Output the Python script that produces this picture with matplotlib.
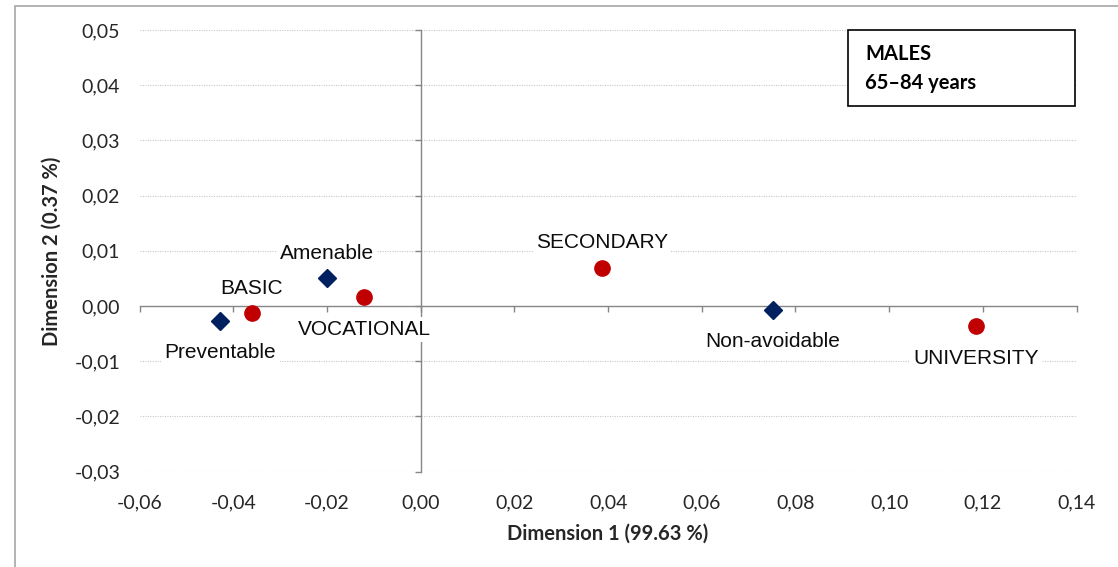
import matplotlib
matplotlib.use("Agg")
import matplotlib.pyplot as plt
from matplotlib.patches import Rectangle
from matplotlib.ticker import FixedLocator, FuncFormatter

# ---- data ----
cause_labels = ["Preventable", "Amenable", "Non-avoidable"]
cause_x = [-0.0428, -0.0200, 0.0752]
cause_y = [-0.0027, 0.0050, -0.0007]
cause_pos = ["below", "above", "below"]

edu_labels = ["BASIC", "VOCATIONAL", "SECONDARY", "UNIVERSITY"]
edu_x = [-0.0360, -0.0121, 0.0387, 0.1185]
edu_y = [-0.0013, 0.0016, 0.0069, -0.0037]
edu_pos = ["above", "below", "above", "below"]

x_ticks = [-0.06, -0.04, -0.02, 0.00, 0.02, 0.04, 0.06, 0.08, 0.10, 0.12, 0.14]
y_ticks = [-0.03, -0.02, -0.01, 0.00, 0.01, 0.02, 0.03, 0.04, 0.05]
x_title = "Dimension 1 (99.63 %)"
y_title = "Dimension 2 (0.37 %)"
box_lines = ["MALES", "65\u201384 years"]

# ---- figure ----
W, H = 1118, 567
fig = plt.figure(figsize=(W / 100, H / 100), dpi=100)
fig.patch.set_facecolor("white")

# outer frame
fig.patches.append(Rectangle((15 / W, -0.2), 1.2, 1.2 - 6 / H, transform=fig.transFigure,
                             fill=False, edgecolor="#a6a6a6", linewidth=1.2))

L, R, T, B = 139.6 / W, 1076.6 / W, 1 - 30 / H, 1 - 471.7 / H
pos = [L, B, R - L, T - B]
ax = fig.add_axes(pos)
ax.set_xlim(x_ticks[0], x_ticks[-1])
ax.set_ylim(y_ticks[0], y_ticks[-1])
ax.set_facecolor("none")

axis_col = "#868686"
for s in ["top", "right"]:
    ax.spines[s].set_visible(False)
ax.spines["left"].set_position(("data", 0))
ax.spines["bottom"].set_position(("data", 0))
ax.spines["left"].set_color(axis_col)
ax.spines["bottom"].set_color(axis_col)
ax.spines["left"].set_linewidth(1.0)
ax.spines["bottom"].set_linewidth(1.0)
ax.xaxis.set_major_locator(FixedLocator(x_ticks))
ax.yaxis.set_major_locator(FixedLocator(y_ticks))
ax.tick_params(axis="both", direction="out", length=4.5, width=1.0, color=axis_col,
               labelbottom=False, labelleft=False)

# gridlines (horizontal dotted)
for yv in y_ticks:
    if yv != 0:
        ax.axhline(yv, color="#c8c8c8", linestyle=(0, (1, 1.2)), linewidth=0.8, zorder=0)

# label axes (frameless overlay sharing scales)
ax2 = fig.add_axes(pos, sharex=ax, sharey=ax)
ax2.set_facecolor("none")
for s in ax2.spines.values():
    s.set_visible(False)
fmt = FuncFormatter(lambda v, p: f"{v:.2f}".replace(".", ","))
ax2.xaxis.set_major_formatter(fmt)
ax2.yaxis.set_major_formatter(fmt)
ax2.tick_params(axis="both", length=0, labelsize=14, labelcolor="#262626")
ax2.tick_params(axis="x", pad=16)
ax2.tick_params(axis="y", pad=14)
for lab in ax2.get_xticklabels() + ax2.get_yticklabels():
    lab.set_family("Lato")
ax2.set_xlabel(x_title, fontsize=14.5, fontweight="bold", family="Lato", labelpad=9, color="#262626")
ax2.set_ylabel(y_title, fontsize=14.5, fontweight="bold", family="Lato", labelpad=9, color="#262626")
ax2.set_zorder(-1)

# markers
ax.plot(cause_x, cause_y, linestyle="none", marker="D", markersize=9.3,
        color="#002060", zorder=4, clip_on=False)
ax.plot(edu_x, edu_y, linestyle="none", marker="o", markersize=11,
        color="#c00000", zorder=4, clip_on=False)

# data labels
def label(xs, ys, names, where):
    for xv, yv, nm, w in zip(xs, ys, names, where):
        dy = 18 if w == "above" else -23
        ax.annotate(nm, (xv, yv), xytext=(0, dy), textcoords="offset points",
                    ha="center", va="center", fontsize=15, family="Liberation Sans",
                    color="#0d0d0d", zorder=5,
                    bbox=dict(boxstyle="square,pad=0.15", facecolor="white", edgecolor="none"))

label(cause_x, cause_y, cause_labels, cause_pos)
label(edu_x, edu_y, edu_labels, edu_pos)

# title box
fig.patches.append(Rectangle((848 / W, 1 - 106 / H), (1075 - 848) / W, (106 - 30) / H,
                             transform=fig.transFigure, fill=True, facecolor="white",
                             edgecolor="black", linewidth=1.2, zorder=6))
fig.text(865 / W, 1 - 59.5 / H, box_lines[0], fontsize=14.5, fontweight="bold",
         family="Lato", va="baseline", ha="left", zorder=7)
fig.text(865 / W, 1 - 89 / H, box_lines[1], fontsize=14.5, fontweight="bold",
         family="Lato", va="baseline", ha="left", zorder=7)

fig.savefig("out.png", dpi=100, facecolor="white")
